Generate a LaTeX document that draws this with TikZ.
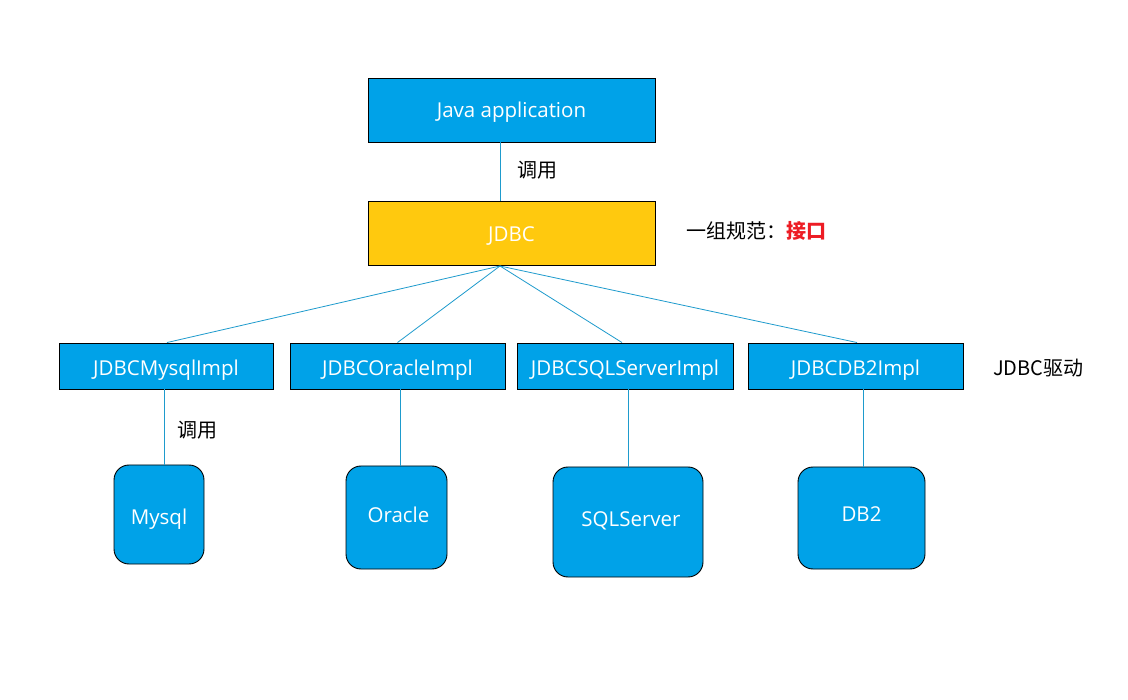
\documentclass[tikz,border=0pt]{standalone}
\usepackage{fontspec}
\setmainfont{Open Sans}
\newfontfamily\cjk{Noto Sans CJK SC}
\definecolor{boxblue}{RGB}{0,162,232}
\definecolor{boxyellow}{RGB}{255,201,14}
\definecolor{linkc}{RGB}{30,155,205}
\definecolor{redtxt}{RGB}{237,28,36}
\tikzset{
  bluebox/.style={draw=black, line width=0.9pt, fill=boxblue, text=white, inner sep=0pt,
    font=\fontsize{20.5}{24}\selectfont, text depth=4pt, text height=22.6pt},
  yellowbox/.style={bluebox, fill=boxyellow},
  dbbox/.style={bluebox, rounded corners=15pt},
  th/.style={text height=#1}
}
\tikzset{
  link/.style={draw=linkc, line width=0.8pt},
  lbl/.style={text=black, inner sep=0pt, font=\cjk\fontsize{20}{23}\selectfont}
}
\begin{document}
\begin{tikzpicture}[x=1pt,y=-1pt]
\useasboundingbox (0,0) rectangle (1128,700);
\fill[white] (0,0) rectangle (1128,700);
% top boxes
\node[bluebox, th=19.6pt, minimum width=287pt, minimum height=64pt] (java) at (511.5,110) {Java application};
\node[yellowbox, th=21pt, minimum width=287pt, minimum height=64pt] (jdbc) at (511.5,233) {JDBC};
% impl boxes
\node[bluebox, minimum width=214pt, minimum height=46pt] (imysql) at (166,366) {JDBCMysqlImpl};
\node[bluebox, minimum width=215pt, minimum height=46pt] (ioracle) at (397.5,366) {JDBCOracleImpl};
\node[bluebox, minimum width=216pt, minimum height=46pt] (isql) at (625,366) {JDBCSQLServerImpl};
\node[bluebox, minimum width=215pt, minimum height=46pt] (idb2) at (855.5,366) {JDBCDB2Impl};
% databases
\node[dbbox, th=24.6pt, minimum width=90pt, minimum height=99pt] (mysql) at (159,514.5) {Mysql};
\node[dbbox, th=14.2pt, minimum width=101pt, minimum height=103pt] (oracle) at (396.5,517.5) {\hspace*{4pt}Oracle};
\node[dbbox, th=12.6pt, minimum width=150pt, minimum height=110pt] (sqlserver) at (628,522) {\hspace*{6pt}SQLServer};
\node[dbbox, th=10.6pt, minimum width=127pt, minimum height=102pt] (db2) at (861.5,518) {DB2};
% coordinates
\coordinate (fan) at (500,266);
\coordinate (vmysql) at (164,0);
\coordinate (voracle) at (400,0);
\coordinate (vsql) at (628,0);
\coordinate (vdb2) at (863,0);
% connectors
\draw[link] (java.south -| fan) -- (jdbc.north -| fan);
\draw[link] (fan) -- ([xshift=1pt]imysql.north);
\draw[link] (fan) -- (ioracle.north);
\draw[link] (fan) -- ([xshift=-3pt]isql.north);
\draw[link] (fan) -- ([xshift=1.5pt]idb2.north);
\draw[link] (imysql.south -| vmysql) -- (mysql.north -| vmysql);
\draw[link] (ioracle.south -| voracle) -- (oracle.north -| voracle);
\draw[link] (isql.south -| vsql) -- (sqlserver.north -| vsql);
\draw[link] (idb2.south -| vdb2) -- (db2.north -| vdb2);
% labels
\node[lbl] (call1) at (537,170) {调用};
\node[lbl] (call2) at (197,430) {调用};
\node[lbl, anchor=west] (spec) at (686,231) {一组规范：{\color{redtxt}\bfseries 接口}};
\node[lbl, anchor=west] (driver) at (993,368) {JDBC驱动};
\end{tikzpicture}
\end{document}
